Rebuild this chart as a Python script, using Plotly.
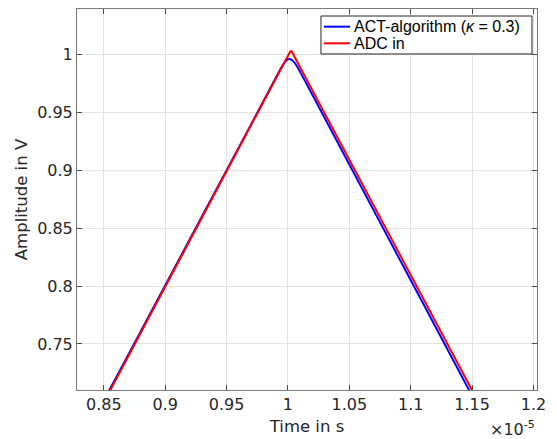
import plotly.graph_objects as go

# Data (time in units of 1e-5 s, amplitude in V)
adc_t = [0.8540, 0.8553, 1.0020, 1.0030, 1.1500, 1.1515]
adc_v = [0.7075, 0.7100, 1.0030, 1.0030, 0.7100, 0.7070]

act_t = [0.8530, 0.8545, 0.9000, 0.9600, 0.9850, 0.9950, 0.9972, 0.9992, 1.0010,
         1.0030, 1.0052, 1.0074, 1.0400, 1.1000, 1.1476, 1.1490]
act_v = [0.7070, 0.7100, 0.8005, 0.9199, 0.9697, 0.9895, 0.9932, 0.9955, 0.9963,
         0.9956, 0.9934, 0.9900, 0.9252, 0.8052, 0.7100, 0.7072]

x_ticks = [0.85, 0.9, 0.95, 1.0, 1.05, 1.1, 1.15, 1.2]
x_tick_text = ["0.85", "0.9", "0.95", "1", "1.05", "1.1", "1.15", "1.2"]
y_ticks = [0.75, 0.8, 0.85, 0.9, 0.95, 1.0]
y_tick_text = ["0.75", "0.8", "0.85", "0.9", "0.95", "1"]

series_names = ["ACT-algorithm (<i>κ</i> = 0.3)", "ADC in"]
series_colors = ["#0000ff", "#ff0000"]

fig = go.Figure()
fig.add_trace(go.Scatter(x=act_t, y=act_v, mode="lines", name=series_names[0],
                         line=dict(color=series_colors[0], width=2, shape="spline", smoothing=0.5)))
fig.add_trace(go.Scatter(x=adc_t, y=adc_v, mode="lines", name=series_names[1],
                         line=dict(color=series_colors[1], width=2)))

axis_common = dict(
    showline=True, linecolor="#7a7a7a", linewidth=1, mirror="ticks",
    ticks="inside", ticklen=5, tickcolor="#4a4a4a", tickwidth=1,
    showgrid=True, gridcolor="#e3e3e3", gridwidth=1, zeroline=False,
    automargin=False,
    tickfont=dict(family="DejaVu Sans", size=16, color="#262626"),
)

fig.update_xaxes(range=[0.8282, 1.2029], tickvals=x_ticks, ticktext=x_tick_text,
                 title=dict(text="Time in s", font=dict(family="DejaVu Sans", size=16.5, color="#262626"),
                            standoff=7),
                 **axis_common)
fig.update_yaxes(range=[0.7102, 1.0395], tickvals=y_ticks, ticktext=y_tick_text,
                 title=dict(text="Amplitude in V", font=dict(family="DejaVu Sans", size=16.5, color="#262626"),
                            standoff=5),
                 **axis_common)

fig.add_annotation(xref="paper", yref="paper", x=1.0, y=0, xanchor="right", yanchor="top",
                   yshift=-26, showarrow=False,
                   text="×10<sup>-5</sup>",
                   font=dict(family="DejaVu Sans", size=16, color="#262626"))

# Legend box (MATLAB style)
fig.add_shape(type="rect", xref="paper", yref="paper",
              x0=0.5304, x1=0.9891, y0=0.8819, y1=0.9816,
              line=dict(color="#262626", width=1), fillcolor="white", layer="above")
legend_rows_y = [0.9536, 0.9100]
for name, color, yy in zip(series_names, series_colors, legend_rows_y):
    fig.add_shape(type="line", xref="paper", yref="paper",
                  x0=0.537, x1=0.5935, y0=yy, y1=yy,
                  line=dict(color=color, width=2), layer="above")
    fig.add_annotation(xref="paper", yref="paper", x=0.5978, y=yy,
                       xanchor="left", yanchor="middle", showarrow=False,
                       text=name, font=dict(family="Liberation Sans", size=16, color="#000000"))

fig.update_layout(
    width=557, height=439,
    margin=dict(l=77, r=20, t=9, b=49),
    plot_bgcolor="white", paper_bgcolor="white",
    showlegend=False,
)

fig.write_html("out.html", config={"displayModeBar": False},
               post_script="document.body.style.margin='0';document.body.style.padding='0';")
